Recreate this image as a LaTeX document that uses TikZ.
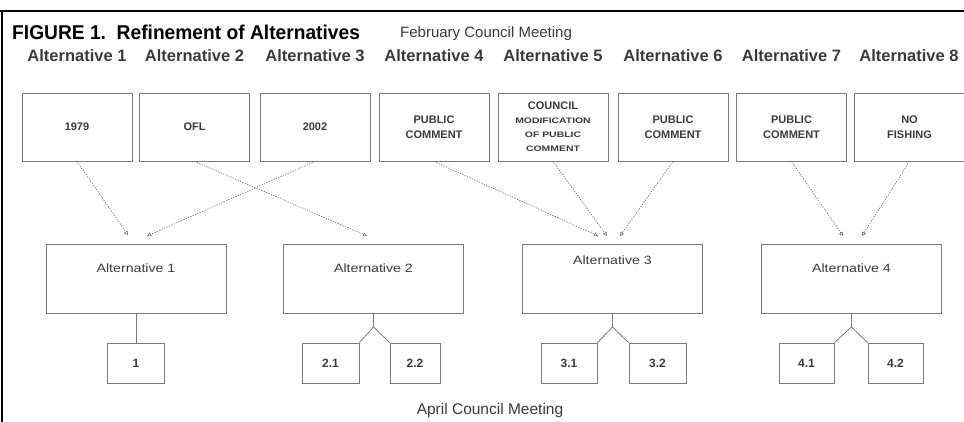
\documentclass[tikz,border=0pt]{standalone}
\usepackage{fontspec}
\setmainfont{Liberation Sans}
\newfontfamily\titlefont[FakeStretch=0.96]{Liberation Sans}
\newfontfamily\widefont[FakeStretch=1.18]{Liberation Sans}
\newfontfamily\wideboldfont[FakeStretch=1.3]{Liberation Sans Bold}
\usetikzlibrary{arrows.meta}
\definecolor{boxgray}{HTML}{7A7A7A}
\definecolor{txtgray}{HTML}{3A3A3A}
\definecolor{arrgray}{HTML}{6A6A6A}

\begin{document}
\begin{tikzpicture}[x=1pt,y=-1pt,>={Triangle[open,length=4pt,width=4pt]},
  tb/.style={draw=boxgray,line width=0.8pt,inner sep=0pt,minimum width=110pt,minimum height=68pt,
    text=txtgray,align=center,font=\bfseries\fontsize{11}{15}\selectfont},
  hd/.style={text=txtgray,font=\bfseries\fontsize{16.5}{18}\selectfont},
  mb/.style={draw=boxgray,line width=0.8pt,inner sep=0pt,minimum width=180pt,minimum height=69pt,
    text=txtgray,font=\widefont\fontsize{12}{14}\selectfont,text height=8pt,text depth=20pt},
  sb/.style={draw=boxgray,line width=0.8pt,inner sep=0pt,minimum height=40pt,
    text=txtgray,font=\bfseries\fontsize{12}{14}\selectfont},
  arr/.style={draw=arrgray,line width=0.6pt,dash pattern=on 1.3pt off 1.3pt,->},
  ln/.style={draw=boxgray,line width=0.8pt}]
  \useasboundingbox (0,0) rectangle (964,422);
  % frame
  \draw[line width=2pt] (0,11) -- (964,11);
  \draw[line width=2pt] (2,11) -- (2,422);
  % titles
  \node[anchor=west,inner sep=0pt,font=\titlefont\bfseries\fontsize{20}{22}\selectfont](title)at(12,32){FIGURE 1.\ \ Refinement of Alternatives};
  \node[anchor=west,inner sep=0pt,text=txtgray,font=\fontsize{15}{17}\selectfont](feb)at(400,34){February Council Meeting};
  \node[inner sep=0pt,text=txtgray,font=\fontsize{15.5}{17}\selectfont](apr)at(490,410){April Council Meeting};
  % february alternatives
  \node[hd](h1)at(77,56){Alternative 1};\node[hd](h2)at(194.5,56){Alternative 2};
  \node[hd](h3)at(315,56){Alternative 3};\node[hd](h4)at(434,56){Alternative 4};
  \node[hd](h5)at(553,56){Alternative 5};\node[hd](h6)at(673,56){Alternative 6};
  \node[hd](h7)at(791.5,56){Alternative 7};\node[hd](h8)at(909,56){Alternative 8};
  \node[tb](t1)at(77,127){1979};\node[tb](t2)at(194.5,127){OFL};\node[tb](t3)at(315,127){2002};
  \node[tb](t4)at(434,127){PUBLIC\\COMMENT};
  \node[tb,font=\wideboldfont\fontsize{8}{14}\selectfont](t5)at(553,127){{\rmfamily\bfseries\fontsize{11}{14}\selectfont COUNCIL}\\MODIFICATION\\OF PUBLIC\\COMMENT};
  \node[tb](t6)at(673,127){PUBLIC\\COMMENT};\node[tb](t7)at(791.5,127){PUBLIC\\COMMENT};
  \node[tb](t8)at(909.5,127){NO\\FISHING};
  % april alternatives
  \node[mb](a1)at(136,278.5){Alternative 1};\node[mb](a2)at(373.5,278.5){Alternative 2};
  \node[mb,text depth=36pt](a3)at(612.5,278.5){Alternative 3};\node[mb](a4)at(851.5,278.5){Alternative 4};
  \coordinate(e1)at(128,235);\coordinate(e3)at(147,236);\coordinate(e2)at(367,236);
  \coordinate(e4)at(598,236);\coordinate(e5)at(607,236);\coordinate(e6)at(620,236);
  \coordinate(e7)at(843,236);\coordinate(e8)at(862,236);
  \draw[arr](t1.south)--(e1);\draw[arr](t2.south)--(e2);\draw[arr](t3.south)--(e3);
  \draw[arr](t4.south)--(e4);\draw[arr](t5.south)--(e5);\draw[arr](t6.south)--(e6);
  \draw[arr](t7.south)--(e7);\draw[arr](t8.south)--(e8);
  % options
  \node[sb,minimum width=57pt](b1)at(136,363){1};
  \node[sb,minimum width=57pt](b21)at(330.5,363){2.1};\node[sb,minimum width=50pt](b22)at(415,363){2.2};
  \node[sb,minimum width=56pt](b31)at(569,363){3.1};\node[sb,minimum width=57pt](b32)at(657.5,363){3.2};
  \node[sb,minimum width=55pt](b41)at(806.5,363){4.1};\node[sb,minimum width=55pt](b42)at(895.5,363){4.2};
  \coordinate(f2)at(373.5,327);\coordinate(f3)at(612.5,327);\coordinate(f4)at(851.5,327);
  \draw[ln](a1.south)--(b1.north);
  \draw[ln](a2.south)--(f2)--(b21.north east);\draw[ln](f2)--(b22.north west);
  \draw[ln](a3.south)--(f3)--(b31.north east);\draw[ln](f3)--(b32.north west);
  \draw[ln](a4.south)--(f4)--(b41.north east);\draw[ln](f4)--(b42.north west);
\end{tikzpicture}
\end{document}
